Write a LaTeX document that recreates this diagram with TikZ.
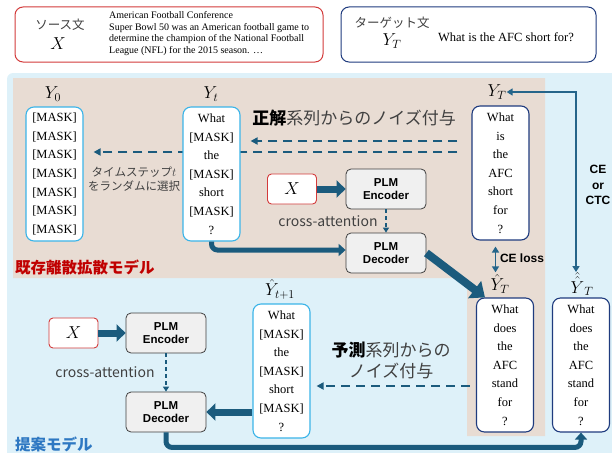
\documentclass[tikz,border=0pt]{standalone}
\usepackage{fontspec}
\setmainfont{Liberation Serif}
\setsansfont{Liberation Sans}
\newfontfamily\jp{Noto Sans CJK JP}
\usetikzlibrary{arrows.meta}
\definecolor{bgblue}{HTML}{DEF1F9}
\definecolor{beige}{HTML}{E8DCD3}
\definecolor{arrblue}{HTML}{1B5B7D}
\definecolor{connblue}{HTML}{25658A}
\definecolor{cyanb}{HTML}{3BB4E8}
\definecolor{navy}{HTML}{1F3B7E}
\definecolor{boxred}{HTML}{D33B3B}
\definecolor{titlered}{HTML}{C00000}
\definecolor{titleblue}{HTML}{2E78C2}
\definecolor{txtgray}{HTML}{404040}
\definecolor{plmgray}{HTML}{F0F0F0}
\newcommand\mk{{}[MASK]}
\begin{document}
\begin{tikzpicture}
        [x=1pt, y=-1pt,
        every node/.style={inner sep=0pt},
        word/.style={draw, fill=white, rounded corners=8pt, line width=1.1pt, minimum width=57pt, minimum height=134pt, align=center, font=\fontsize{12.5}{18.6}\selectfont},
        maskw/.style={word, draw=cyanb},
        goldw/.style={word, draw=navy},
        plm/.style={draw=black!75, fill=plmgray, line width=0.8pt, rounded corners=5pt, minimum width=80pt, minimum height=40pt, align=center, font=\sffamily\bfseries\fontsize{11.5}{13}\selectfont},
        xbox/.style={draw=boxred, fill=white, line width=0.9pt, rounded corners=4pt, minimum width=49pt, minimum height=30pt, font=\fontsize{17}{17}\selectfont},
        lab/.style={font=\fontsize{17}{17}\selectfont},
        jtext/.style={font=\jp\fontsize{17}{21}\selectfont, text=txtgray, align=center},
        small/.style={font=\jp\fontsize{11.5}{14}\selectfont, text=txtgray, align=center},
        xattn/.style={font=\jp\fontsize{14}{14}\selectfont, text=txtgray},
        sans/.style={font=\sffamily\bfseries\fontsize{12}{15.5}\selectfont, align=center},
        fat/.style={draw=arrblue, line width=7pt, -{Triangle[length=9pt, width=17pt]}},
        big/.style={draw=arrblue, line width=8pt, -{Triangle[length=13pt, width=21pt]}},
        pipe/.style={draw=arrblue, line width=5pt, rounded corners=6pt, -{Triangle[length=7pt, width=12pt]}},
        noise/.style={draw=arrblue, line width=2pt, dash pattern=on 9pt off 6pt, -{Triangle[length=7pt, width=7pt]}},
        cross/.style={draw=arrblue, line width=1.5pt, dash pattern=on 4pt off 3pt, -{Triangle[length=5pt, width=6pt]}},
        ce/.style={draw=connblue, line width=1.8pt, {Triangle[length=6pt, width=7pt]}-{Triangle[length=6pt, width=7pt]}},
        ]
        \useasboundingbox (0,0) rectangle (612,452);
        \clip (0,0) rectangle (612,452);
        \fill[bgblue, rounded corners=6pt] (7,73) rectangle (640,480);
        \fill[beige] (13,78) -- (545,78) -- (545,436) -- (467,436) -- (467,278) -- (13,278) -- cycle;

        \node[draw=boxred, line width=1pt, rounded corners=8pt, fill=white, minimum width=308pt, minimum height=55pt] (src) at (169,34.5) {};
        \node[font=\jp\fontsize{12.5}{12.5}\selectfont, text=txtgray] (srclab) at (60,25) {ソース文};
        \node[lab] (srcx) at (58,44) {$X$};
        \node[anchor=west, align=left, font=\fontsize{10}{11.7}\selectfont] (srctext) at (109,33.5) {American Football Conference\\Super Bowl 50 was an American football game to\\determine the champion of the National Football\\League (NFL) for the 2015 season. …};
        \node[draw=navy, line width=1pt, rounded corners=8pt, fill=white, minimum width=255pt, minimum height=55pt] (tgt) at (468.5,34.5) {};
        \node[font=\jp\fontsize{12.5}{12.5}\selectfont, text=txtgray] (tgtlab) at (392,23) {ターゲット文};
        \node[lab] (tgty) at (392,41) {$Y_T$};
        \node[font=\fontsize{12.5}{12.5}\selectfont] (tgttext) at (506,37) {What is the AFC short for?};

        \node[maskw] (y0) at (54.5,174) {\mk\\\mk\\\mk\\\mk\\\mk\\\mk\\\mk};
        \node[goldw] (yT) at (500.5,173) {What\\is\\the\\AFC\\short\\for\\?};
        \draw[noise] ([shift={(-14,-21)}]yT.west) -- ([shift={(10,-22)}]y0.east);
        \node[maskw] (yt) at (211.5,174) {What\\\mk\\the\\\mk\\short\\\mk\\?};
        \draw[noise] ([shift={(-14,-32)}]yT.west) -- ([shift={(10,-33)}]yt.east);
        \node[lab] (ly0) at (53,94) {$Y_0$};
        \node[lab] (lyt) at (211,94) {$Y_t$};
        \node[lab] (lyT) at (497,92) {$Y_T$};
        \node[jtext] (noise1) at (354,118) {\textbf{\color{black}正解}系列からのノイズ付与};
        \node[small] (tstep) at (134,179) {タイムステップ$t$\\をランダムに選択};
        \node[xbox] (xu) at (292,189) {$X$};
        \node[plm] (encu) at (386,189) {PLM\\Encoder};
        \node[plm] (decu) at (386,253) {PLM\\Decoder};
        \node[xattn] (cau) at (328,221) {cross-attention};
        \node[sans] (celoss) at (522,258) {CE loss};
        \node[sans] (cectc) at (598,185) {CE\\or\\CTC};
        \node[font=\jp\bfseries\fontsize{15.5}{15.5}\selectfont, text=titlered, anchor=west] (told) at (15,267) {既存離散拡散モデル};

        \node[goldw] (yhT) at (505,365) {What\\does\\the\\AFC\\stand\\for\\?};
        \node[goldw] (yhhT) at (581,365) {What\\does\\the\\AFC\\stand\\for\\?};
        \node[maskw] (ytp) at (281.5,371) {What\\\mk\\the\\\mk\\short\\\mk\\?};
        \node[lab] (lhT) at (500,284) {$\hat{Y}_T$};
        \node[lab] (lhhT) at (582,284) {$\hat{\hat{Y}}_T$};
        \node[lab] (ltp) at (280,289) {$\hat{Y}_{t+1}$};
        \node[jtext] (noise2) at (391,360) {\textbf{\color{black}予測}系列からの\\ノイズ付与};
        \node[xbox] (xl) at (73.5,333) {$X$};
        \node[plm] (encl) at (166,333) {PLM\\Encoder};
        \node[plm] (decl) at (166,412) {PLM\\Decoder};
        \node[xattn] (cal) at (105,372) {cross-attention};
        \node[font=\jp\bfseries\fontsize{15.5}{15.5}\selectfont, text=titleblue, anchor=west] (tnew) at (15,444) {提案モデル};

        \draw[fat] (xu) -- (encu);
        \draw[cross] (encu) -- (decu);
        \draw[pipe] (yt.south) |- ([yshift=3pt]decu.west);
        \draw[big] (decu.east) -- ([xshift=9pt]yhT.north west);
        \draw[ce] ([shift={(-5,6)}]yT.south) -- ([shift={(-5,-2)}]yT.south |- lhT.north);
        \draw[ce] (lyT.east) -| ([xshift=-6pt]lhhT.north);

        \draw[noise] ([shift={(-6,21)}]yhT.west) -- ([shift={(6,15)}]ytp.east);
        \draw[fat] (xl) -- (encl);
        \draw[cross] (encl) -- (decl);
        \draw[fat] (ytp.west |- decl.east) -- (decl.east);
        \draw[pipe] (decl.south) -- ++(0,15) -| (yhhT.south);
\end{tikzpicture}
\end{document}
